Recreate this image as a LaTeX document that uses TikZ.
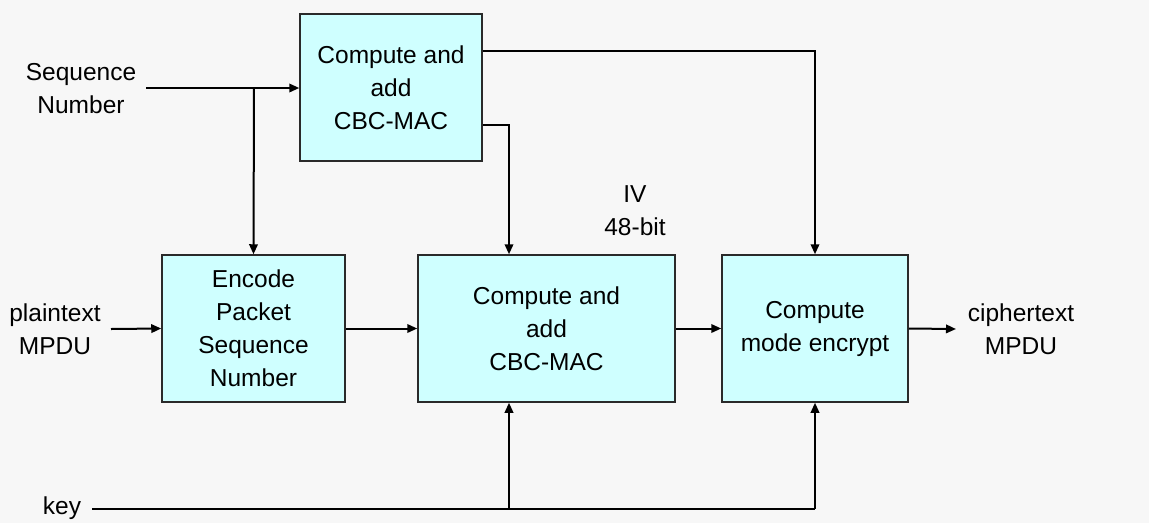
\documentclass[tikz,border=0pt]{standalone}
\usepackage{fontspec}
\setmainfont{Liberation Sans}
\usetikzlibrary{arrows.meta,calc}
\definecolor{bg}{HTML}{F7F7F7}
\definecolor{boxfill}{HTML}{CFFFFF}
\definecolor{boxline}{HTML}{2A2A2A}
\newcommand{\blockfont}{\fontsize{24.5}{33}\selectfont}
\tikzset{
  block/.style={draw=boxline, line width=1.5pt, fill=boxfill, rectangle,
    minimum height=147pt, align=center, inner sep=0pt, font=\blockfont},
  label/.style={align=center, inner sep=0pt, font=\blockfont},
  wire/.style={line width=2pt, draw=black},
  arr/.style={wire, -{Triangle[length=10pt,width=8.5pt]}}
}
\begin{document}
\begin{tikzpicture}[x=1pt,y=-1pt]
  % canvas
  \fill[bg] (0,0) rectangle (1149,523);
  \useasboundingbox (0,0) rectangle (1149,523);

  % processing blocks
  \node[block, minimum width=182pt] (top)  at (391,87.5)   {Compute and\\add\\CBC-MAC};
  \node[block, minimum width=183pt] (enc)  at (253.5,328.5) {Encode\\Packet\\Sequence\\Number};
  \node[block, minimum width=257pt] (mid)  at (546.5,328.5) {Compute and\\add\\CBC-MAC};
  \node[block, minimum width=186pt] (encr) at (815,328.5)   {Compute\\mode encrypt};

  % external labels
  \node[label] (seq)    at (81,89)    {Sequence\\Number};
  \node[label] (plain)  at (55,329)   {plaintext\\MPDU};
  \node[label] (cipher) at (1021,329) {ciphertext\\MPDU};
  \node[label] (key)    at (62,508)   {key};
  \node[label] (iv)     at (635,211)  {IV\\48-bit};

  % free ends and branch points
  \coordinate (seqout)   at (146,88);
  \coordinate (seqsplit) at (254,88);
  \coordinate (plainout) at (111,329);
  \coordinate (cipherin) at (956,329);
  \coordinate (keyout)   at (92,509);
  \coordinate (keymid)   at (509,509);
  \coordinate (keyend)   at (815,509);

  % sequence number feeds
  \draw[arr] (seqout) -- (seqout -| top.west);
  \draw[arr] (seqsplit) -- (enc.north);

  % outputs of the upper block
  \draw[arr] ([yshift=36.5pt]top.east) -| (encr.north);
  \draw[arr] ([yshift=-37.5pt]top.east) -| ([xshift=-37.5pt]mid.north);

  % main data path
  \draw[arr] (plainout) -- (enc.west);
  \draw[arr] (enc.east) -- (mid.west);
  \draw[arr] (mid.east) -- (encr.west);
  \draw[arr] (encr.east) -- (cipherin);

  % key distribution
  \draw[wire] (keyout) -- (keyend);
  \draw[arr] (keyend) -- (encr.south);
  \draw[arr] (keymid) -- (keymid |- mid.south);
\end{tikzpicture}
\end{document}
